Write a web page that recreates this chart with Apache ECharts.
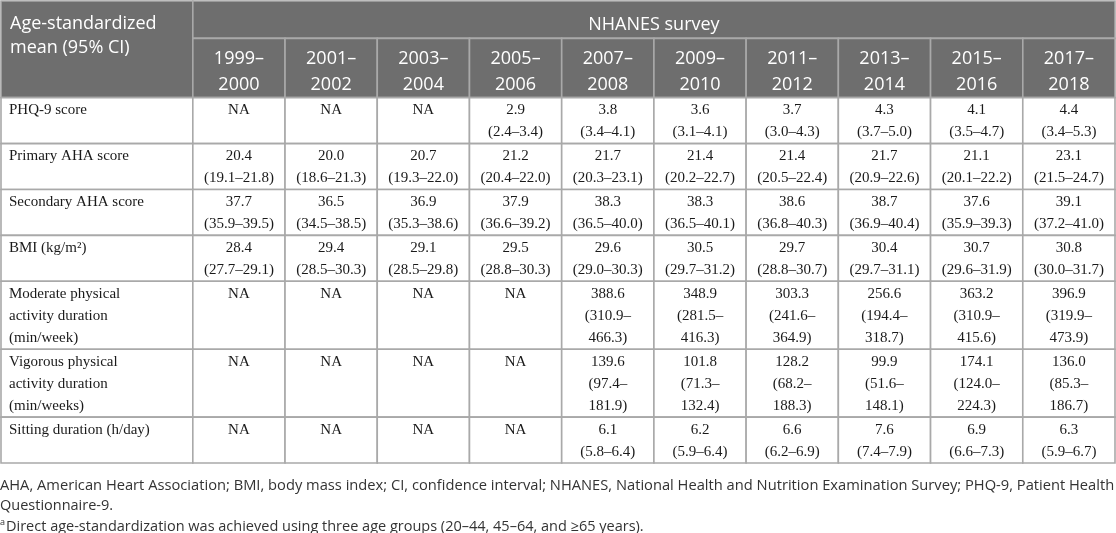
<!DOCTYPE html>
<html><head><meta charset="utf-8">
<script src="https://cdn.jsdelivr.net/npm/echarts@6/dist/echarts.min.js"></script>
<style>html,body{margin:0;padding:0;background:#fff}#c{width:1116px;height:533px}</style>
</head><body><div id="c"></div>
<script>
// ---- data ----
const periods = ['1999–2000','2001–2002','2003–2004','2005–2006','2007–2008','2009–2010','2011–2012','2013–2014','2015–2016','2017–2018'];
const measureLabels = ['PHQ-9 score','Primary AHA score','Secondary AHA score','BMI (kg/m²)','Moderate physical\nactivity duration\n(min/week)','Vigorous physical\nactivity duration\n(min/weeks)','Sitting duration (h/day)'];

const phqMean = [null,null,null,2.9,3.8,3.6,3.7,4.3,4.1,4.4];
const phqLow  = [null,null,null,2.4,3.4,3.1,3.0,3.7,3.5,3.4];
const phqHigh = [null,null,null,3.4,4.1,4.1,4.3,5.0,4.7,5.3];

const ahaPrimMean = [20.4,20.0,20.7,21.2,21.7,21.4,21.4,21.7,21.1,23.1];
const ahaPrimLow  = [19.1,18.6,19.3,20.4,20.3,20.2,20.5,20.9,20.1,21.5];
const ahaPrimHigh = [21.8,21.3,22.0,22.0,23.1,22.7,22.4,22.6,22.2,24.7];

const ahaSecMean = [37.7,36.5,36.9,37.9,38.3,38.3,38.6,38.7,37.6,39.1];
const ahaSecLow  = [35.9,34.5,35.3,36.6,36.5,36.5,36.8,36.9,35.9,37.2];
const ahaSecHigh = [39.5,38.5,38.6,39.2,40.0,40.1,40.3,40.4,39.3,41.0];

const bmiMean = [28.4,29.4,29.1,29.5,29.6,30.5,29.7,30.4,30.7,30.8];
const bmiLow  = [27.7,28.5,28.5,28.8,29.0,29.7,28.8,29.7,29.6,30.0];
const bmiHigh = [29.1,30.3,29.8,30.3,30.3,31.2,30.7,31.1,31.9,31.7];

const modMean = [null,null,null,null,388.6,348.9,303.3,256.6,363.2,396.9];
const modLow  = [null,null,null,null,310.9,281.5,241.6,194.4,310.9,319.9];
const modHigh = [null,null,null,null,466.3,416.3,364.9,318.7,415.6,473.9];

const vigMean = [null,null,null,null,139.6,101.8,128.2,99.9,174.1,136.0];
const vigLow  = [null,null,null,null,97.4,71.3,68.2,51.6,124.0,85.3];
const vigHigh = [null,null,null,null,181.9,132.4,188.3,148.1,224.3,186.7];

const sitMean = [null,null,null,null,6.1,6.2,6.6,7.6,6.9,6.3];
const sitLow  = [null,null,null,null,5.8,5.9,6.2,7.4,6.6,5.9];
const sitHigh = [null,null,null,null,6.4,6.4,6.9,7.9,7.3,6.7];

const cornerTitle = 'Age-standardized\nmean (95% CI)';
const spanTitle = 'NHANES survey';
const footnote1 = 'AHA, American Heart Association; BMI, body mass index; CI, confidence interval; NHANES, National Health and Nutrition Examination Survey; PHQ-9, Patient Health';
const footnote2 = 'Questionnaire-9.';
const footnote3 = 'Direct age-standardization was achieved using three age groups (20–44, 45–64, and ≥65 years).';

// ---- build table ----
const rows = [
  [phqMean, phqLow, phqHigh],
  [ahaPrimMean, ahaPrimLow, ahaPrimHigh],
  [ahaSecMean, ahaSecLow, ahaSecHigh],
  [bmiMean, bmiLow, bmiHigh],
  [modMean, modLow, modHigh],
  [vigMean, vigLow, vigHigh],
  [sitMean, sitLow, sitHigh]
];
function fmtCell(m, lo, hi) {
  if (m == null) return 'NA';
  let ci = '(' + lo.toFixed(1) + '–' + hi.toFixed(1) + ')';
  if (ci.length > 11) ci = '(' + lo.toFixed(1) + '–\n' + hi.toFixed(1) + ')';
  return m.toFixed(1) + '\n' + ci;
}
const LABEL_W = 2.08;   // label column width in period-column units
const HDR1 = 1.7, HDR2 = 2.7, ROW_PAD = 0.09;

const cells = [];
cells.push({kind:'corner', x0:0, x1:LABEL_W, y0:0, y1:HDR1+HDR2, text:cornerTitle});
cells.push({kind:'span', x0:LABEL_W, x1:LABEL_W+periods.length, y0:0, y1:HDR1, text:spanTitle});
periods.forEach((p, i) => {
  cells.push({kind:'period', x0:LABEL_W+i, x1:LABEL_W+i+1, y0:HDR1, y1:HDR1+HDR2, text:p.replace('–','–\n')});
});
let yCur = HDR1 + HDR2;
rows.forEach((r, ri) => {
  const texts = periods.map((_, i) => fmtCell(r[0][i], r[1][i], r[2][i]));
  const lines = Math.max(measureLabels[ri].split('\n').length, ...texts.map(t => t.split('\n').length));
  const h = lines + ROW_PAD;
  cells.push({kind:'label', x0:0, x1:LABEL_W, y0:yCur, y1:yCur+h, text:measureLabels[ri]});
  texts.forEach((t, i) => cells.push({kind:'value', x0:LABEL_W+i, x1:LABEL_W+i+1, y0:yCur, y1:yCur+h, text:t}));
  yCur += h;
});
const TOTAL_Y = yCur;

const HDR_BG = '#6e6e6e', LINE = '#a9a9a9', INK = '#1a1a1a';
const SANS = '"Open Sans", "Noto Sans", sans-serif';
const SERIF = '"Liberation Serif", "DejaVu Serif", serif';

function renderItem(params, api) {
  const c = cells[params.dataIndex];
  const p0 = api.coord([api.value(0), api.value(2)]);
  const p1 = api.coord([api.value(1), api.value(3)]);
  const x = Math.min(p0[0], p1[0]), y = Math.min(p0[1], p1[1]);
  const w = Math.abs(p1[0] - p0[0]), h = Math.abs(p1[1] - p0[1]);
  const header = (c.kind === 'corner' || c.kind === 'span' || c.kind === 'period');
  let ts;
  if (c.kind === 'corner') {
    ts = {x: x + 9, y: y + 11, align:'left', verticalAlign:'top', lineHeight:24, font:'18px ' + SANS, fill:'#fff'};
  } else if (c.kind === 'span') {
    ts = {x: x + w / 2, y: y + h / 2 + 5, align:'center', verticalAlign:'middle', lineHeight:24, font:'18px ' + SANS, fill:'#fff'};
  } else if (c.kind === 'period') {
    ts = {x: x + w / 2, y: y + h / 2 + 3.5, align:'center', verticalAlign:'middle', lineHeight:26, font:'18px ' + SANS, fill:'#fff'};
  } else if (c.kind === 'label') {
    ts = {x: x + 8, y: y + 1.5, align:'left', verticalAlign:'top', lineHeight:22, font:'15px ' + SERIF, fill:INK};
  } else {
    ts = {x: x + w / 2, y: y + 1.5, align:'center', verticalAlign:'top', lineHeight:22, font:'15px ' + SERIF, fill:INK};
  }
  return {
    type:'group',
    children:[
      {type:'rect', shape:{x:x, y:y, width:w, height:h}, style:{fill: header ? HDR_BG : '#fff', stroke: LINE, lineWidth:1.6}},
      {type:'text', x: ts.x, y: ts.y, style:{text:c.text, fill:ts.fill, font:ts.font, align:ts.align, verticalAlign:ts.verticalAlign, lineHeight:ts.lineHeight}}
    ]
  };
}

const chart = echarts.init(document.getElementById('c'), null, {renderer:'canvas'});
chart.setOption({
  animation:false,
  grid:{left:1, right:1, top:1, bottom:70},
  xAxis:{type:'value', min:0, max:LABEL_W + periods.length, show:false},
  yAxis:{type:'value', min:0, max:TOTAL_Y, inverse:true, show:false},
  series:[{
    type:'custom',
    renderItem: renderItem,
    encode:{x:[0,1], y:[2,3]},
    data: cells.map(c => [c.x0, c.x1, c.y0, c.y1])
  }],
  graphic:[
    {type:'text', x:0, y:485.5, style:{text:footnote1, font:'14.7px ' + SANS, fill:'#333', verticalAlign:'middle'}},
    {type:'text', x:0, y:506, style:{text:footnote2, font:'14.5px ' + SANS, fill:'#333', verticalAlign:'middle'}},
    {type:'text', x:0, y:522, style:{text:'a', font:'9px ' + SANS, fill:'#333', verticalAlign:'middle'}},
    {type:'text', x:6, y:526.5, style:{text:footnote3, font:'14.5px ' + SANS, fill:'#333', verticalAlign:'middle'}}
  ]
});
</script></body></html>
